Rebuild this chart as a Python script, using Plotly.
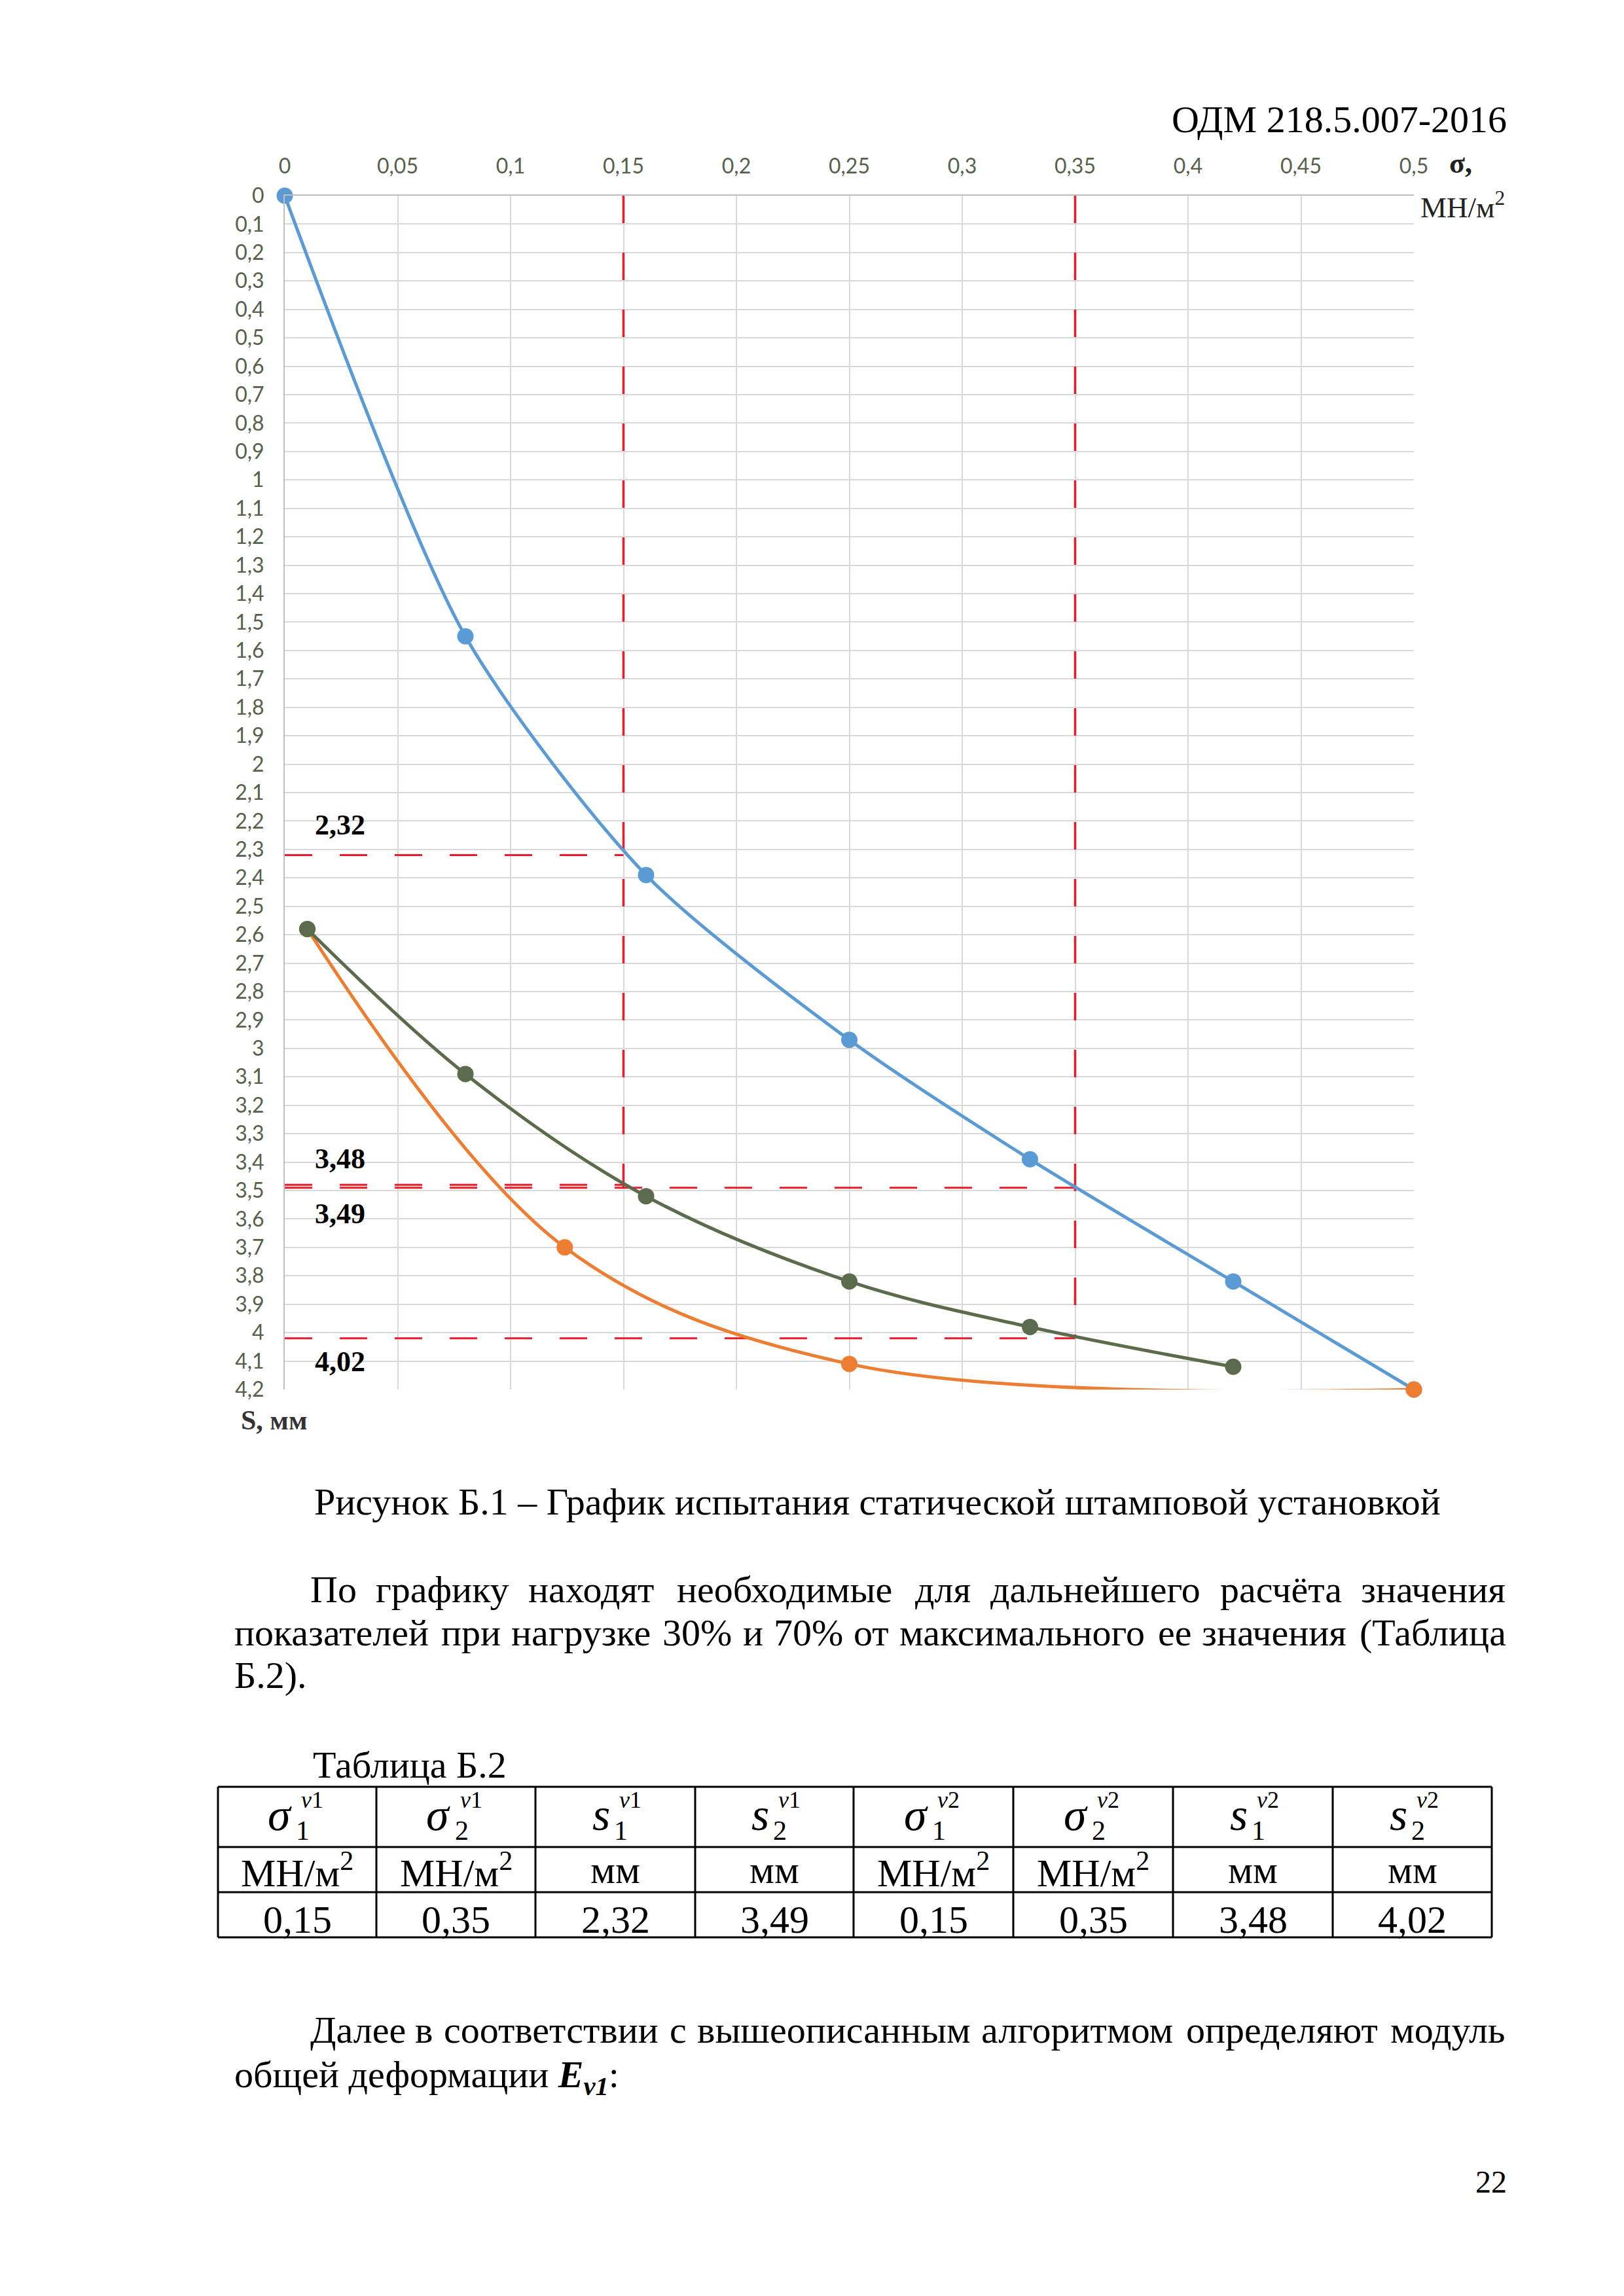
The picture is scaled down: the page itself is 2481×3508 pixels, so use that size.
import plotly.graph_objects as go

# ---------------- data ----------------
sigma_blue = [0, 0.08, 0.16, 0.25, 0.33, 0.42, 0.5]
s_blue = [0, 1.55, 2.39, 2.97, 3.39, 3.82, 4.2]

sigma_orange = [0.01, 0.124, 0.25, 0.5]
s_orange = [2.58, 3.70, 4.11, 4.2]

sigma_green = [0.01, 0.08, 0.16, 0.25, 0.33, 0.42]
s_green = [2.58, 3.09, 3.52, 3.82, 3.98, 4.12]

ref_sigma = [0.15, 0.35]          # 30% and 70% of max load
ref_s_v1 = [2.32, 3.49]           # s1^v1, s2^v1
ref_s_v2 = [3.48, 4.02]           # s1^v2, s2^v2

x_tickvals = [0, 0.05, 0.1, 0.15, 0.2, 0.25, 0.3, 0.35, 0.4, 0.45, 0.5]
x_ticktext = ["0", "0,05", "0,1", "0,15", "0,2", "0,25", "0,3", "0,35", "0,4", "0,45", "0,5"]
y_tickvals = [round(i * 0.1, 1) for i in range(43)]
y_ticktext = [("%g" % v).replace(".", ",") for v in y_tickvals]

def fmt(v):
    return ("%.2f" % v).replace(".", ",")

# ---------------- page geometry ----------------
W, H = 2481, 3508
OFF = 8                      # default body margin of the html page
FW, FH = W - 2 * OFF, H - 2 * OFF
def PX(x):
    return (x - OFF) / FW
def PY(y):
    return 1 - (y - OFF) / FH

SERIF = "Liberation Serif, Times New Roman, serif"
TICKFONT = dict(family="Lato, Carlito, Calibri, sans-serif", size=32, color="#56614c")
RED = "#ea1c2a"
BLUE = "#5b9bd5"
ORANGE = "#ed7d31"
GREEN = "#5b6b4b"

fig = go.Figure()

# dashed reference lines
dash_v = "42px,45px"
dash_h = "42px,42px"
fig.add_trace(go.Scatter(x=[ref_sigma[0], ref_sigma[0]], y=[0, ref_s_v1[1]], mode="lines",
                         line=dict(color=RED, width=3.5, dash=dash_v), hoverinfo="skip"))
fig.add_trace(go.Scatter(x=[ref_sigma[1], ref_sigma[1]], y=[0, ref_s_v2[1]], mode="lines",
                         line=dict(color=RED, width=3.5, dash=dash_v), hoverinfo="skip"))
for sx, sy in [(ref_sigma[0], ref_s_v1[0]), (ref_sigma[1], ref_s_v1[1]),
               (ref_sigma[0], ref_s_v2[0]), (ref_sigma[1], ref_s_v2[1])]:
    fig.add_trace(go.Scatter(x=[0, sx], y=[sy, sy], mode="lines",
                             line=dict(color=RED, width=3, dash=dash_h), hoverinfo="skip"))

# curves
for xs, ys, col, sm in [(sigma_blue, s_blue, BLUE, 0.75), (sigma_orange, s_orange, ORANGE, 1.0),
                        (sigma_green, s_green, GREEN, 1.0)]:
    fig.add_trace(go.Scatter(x=xs, y=ys, mode="lines+markers",
                             line=dict(color=col, width=5, shape="spline", smoothing=sm),
                             marker=dict(size=25, color=col), cliponaxis=False))

annotations = []

# value labels near the left axis
label_items = [(ref_s_v1[0], 46), (ref_s_v2[0], 40), (ref_s_v1[1], -40), (ref_s_v2[1], -36)]
for val, ysh in label_items:
    annotations.append(dict(x=0.0245, y=val, xref="x", yref="y", yshift=ysh,
                            text="<b>" + fmt(val) + "</b>", showarrow=False,
                            font=dict(family=SERIF, size=44, color="black"),
                            xanchor="center", yanchor="middle"))

# axis titles
annotations.append(dict(x=PX(2212), y=PY(250), xref="paper", yref="paper", text="<b>σ,</b>",
                        showarrow=False, font=dict(family=SERIF, size=44, color="#222222"),
                        xanchor="left", yanchor="middle"))
annotations.append(dict(x=PX(2168), y=PY(313), xref="paper", yref="paper", text="МН/м<sup>2</sup>",
                        showarrow=False, font=dict(family=SERIF, size=45, color="#222222"),
                        xanchor="left", yanchor="middle"))
annotations.append(dict(x=PX(366), y=PY(2170), xref="paper", yref="paper", text="<b>S, мм</b>",
                        showarrow=False, font=dict(family=SERIF, size=42, color="#333333"),
                        xanchor="left", yanchor="middle"))

BODY_SIZE = 58
BODY = dict(family=SERIF, size=BODY_SIZE, color="black")

def text_at(x, y, t, anchor="left", font=BODY):
    annotations.append(dict(x=PX(x), y=PY(y), xref="paper", yref="paper", text=t,
                            showarrow=False, font=font, xanchor=anchor, yanchor="middle"))

# approximate Times New Roman advance widths (per 1000 em) for justification
CW = {
    "а": 444, "б": 509, "в": 472, "г": 410, "д": 509, "е": 444, "ё": 444, "ж": 691,
    "з": 395, "и": 535, "й": 535, "к": 487, "л": 503, "м": 633, "н": 535, "о": 500,
    "п": 535, "р": 500, "с": 444, "т": 437, "у": 500, "ф": 648, "х": 500, "ц": 535,
    "ч": 503, "ш": 770, "щ": 770, "ъ": 517, "ы": 672, "ь": 456, "э": 429, "ю": 747,
    "я": 481, "П": 722, "Д": 628, "Т": 611, "Б": 556, "(": 333, ")": 333, "%": 833,
    ".": 250, ",": 250, ":": 278,
}
def word_w(w):
    return sum(CW.get(ch, 500) for ch in w) * BODY_SIZE / 1000.0

def justified(words, x0, x1, y):
    widths = [word_w(w) for w in words]
    gap = (x1 - x0 - sum(widths)) / (len(words) - 1)
    x = x0
    for w, wd in zip(words, widths):
        text_at(x, y, w)
        x += wd + gap

# header
text_at(2304, 182, "ОДМ 218.5.007-2016", anchor="right")
# caption
text_at(1341, 2294, "Рисунок Б.1 – График испытания статической штамповой установкой", anchor="center")

justified("По графику находят необходимые для дальнейшего расчёта значения".split(), 472, 2302, 2428)
justified("показателей при нагрузке 30% и 70% от максимального ее значения (Таблица".split(), 356, 2302, 2494)
text_at(356, 2559, "Б.2).")

text_at(476, 2696, "Таблица Б.2")

justified("Далее в соответствии с вышеописанным алгоритмом определяют модуль".split(), 472, 2302, 3101)
text_at(356, 3173, "общей деформации <b><i>E</i></b><b><i><sub>v1</sub></i></b>:")

text_at(2304, 3333, "22", anchor="right", font=dict(family=SERIF, size=48, color="black"))

# ---------------- table ----------------
col_edges = [333, 575, 818, 1062, 1304, 1548, 1792, 2036, 2279]
row_edges = [2730, 2822, 2891, 2960]
shapes = []
for cx in col_edges:
    shapes.append(dict(type="line", xref="paper", yref="paper", x0=PX(cx), x1=PX(cx),
                       y0=PY(row_edges[0]), y1=PY(row_edges[-1]),
                       line=dict(color="black", width=3)))
for ry in row_edges:
    shapes.append(dict(type="line", xref="paper", yref="paper", x0=PX(col_edges[0]),
                       x1=PX(col_edges[-1]), y0=PY(ry), y1=PY(ry),
                       line=dict(color="black", width=3)))

head_syms = [("σ", "1", "v1"), ("σ", "2", "v1"), ("s", "1", "v1"), ("s", "2", "v1"),
             ("σ", "1", "v2"), ("σ", "2", "v2"), ("s", "1", "v2"), ("s", "2", "v2")]
units = ["МН/м<sup>2</sup>", "МН/м<sup>2</sup>", "мм", "мм",
         "МН/м<sup>2</sup>", "МН/м<sup>2</sup>", "мм", "мм"]
values = [ref_sigma[0], ref_sigma[1], ref_s_v1[0], ref_s_v1[1],
          ref_sigma[0], ref_sigma[1], ref_s_v2[0], ref_s_v2[1]]

TFONT = dict(family=SERIF, size=60, color="black")
for i in range(8):
    c = (col_edges[i] + col_edges[i + 1]) / 2
    sym, sub, sup = head_syms[i]
    text_at(c - 6, 2772, "<i>" + sym + "</i>", anchor="right",
            font=dict(family=SERIF, size=70, color="black"))
    text_at(c - 4, 2797, sub, anchor="left", font=dict(family=SERIF, size=42, color="black"))
    text_at(c + 4, 2750, "<i>" + sup[0] + "</i>" + sup[1:], anchor="left",
            font=dict(family=SERIF, size=36, color="black"))
    text_at(c, 2857, units[i], anchor="center", font=TFONT)
    text_at(c, 2933, fmt(values[i]), anchor="center", font=TFONT)

fig.update_layout(
    width=FW, height=FH, margin=dict(l=0, r=0, t=0, b=0, pad=0),
    paper_bgcolor="white", plot_bgcolor="white", showlegend=False,
    separators=", ",
    annotations=annotations, shapes=shapes,
    xaxis=dict(domain=[PX(435), PX(2160)], range=[0, 0.5], side="top",
               tickvals=x_tickvals, ticktext=x_ticktext, tickfont=TICKFONT,
               showgrid=True, gridcolor="#d9d9d9", gridwidth=2,
               showline=True, linecolor="#bfbfbf", linewidth=2,
               zeroline=False, ticks="", ticklabelstandoff=19, automargin=False),
    yaxis=dict(domain=[PY(2123), PY(299)], range=[4.2, 0],
               tickvals=y_tickvals, ticktext=y_ticktext, tickfont=TICKFONT,
               showgrid=True, gridcolor="#d9d9d9", gridwidth=2,
               showline=True, linecolor="#bfbfbf", linewidth=2,
               zeroline=False, ticks="", ticklabelstandoff=23, automargin=False),
)

fig.write_html("out.html")
